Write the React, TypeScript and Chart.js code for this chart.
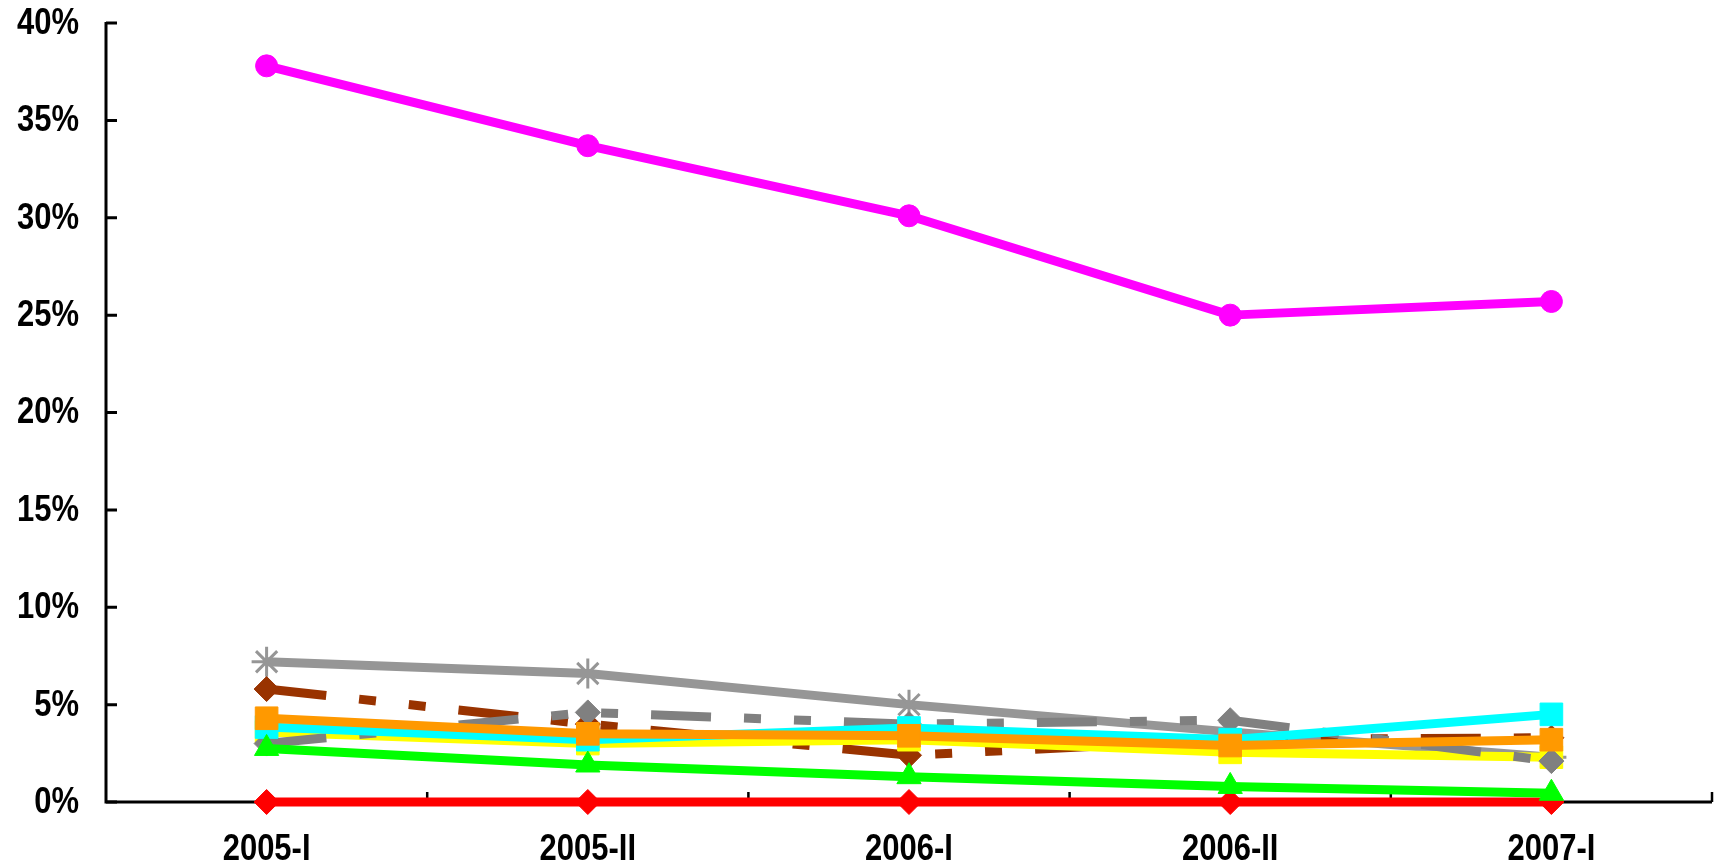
import React, { useEffect, useRef } from "react";
import { Chart, registerables } from "chart.js";

Chart.register(...registerables);

const categories = ["2005-I", "2005-II", "2006-I", "2006-II", "2007-I"];
const yTickMin = 0;
const yTickMax = 40;
const yTickStep = 5;

const magentaValues = [37.8, 33.7, 30.1, 25.0, 25.7];
const lightGrayValues = [7.2, 6.6, 5.0, 3.6, 2.3];
const brownValues = [5.8, 4.0, 2.4, 3.2, 3.3];
const darkGrayValues = [3.0, 4.6, 4.0, 4.2, 2.1];
const cyanValues = [3.85, 3.2, 3.8, 3.2, 4.5];
const orangeValues = [4.3, 3.5, 3.4, 2.9, 3.2];
const yellowValues = [3.6, 3.0, 3.2, 2.55, 2.3];
const greenValues = [2.75, 1.9, 1.3, 0.8, 0.45];
const redValues = [0, 0, 0, 0, 0];

const W = 1721;
const H = 868;
const FONT = "'Liberation Sans', Arial, sans-serif";
const FONT_SIZE = 36;
const SQUEEZE = 0.86;
const DASH = [60, 33, 17, 33, 17, 33];

const axesPlugin = {
  id: "axesInward",
  beforeDatasetsDraw(chart: any) {
    const { ctx, chartArea: a, scales } = chart;
    const x = scales.x;
    const y = scales.y;
    ctx.save();
    ctx.strokeStyle = "#000";
    ctx.lineCap = "butt";
    ctx.lineWidth = 3;
    ctx.beginPath();
    ctx.moveTo(a.left, a.top - 1);
    ctx.lineTo(a.left, a.bottom);
    ctx.lineTo(a.right, a.bottom);
    ctx.stroke();
    ctx.beginPath();
    y.ticks.forEach((t: any) => {
      const py = y.getPixelForValue(t.value);
      ctx.moveTo(a.left, py);
      ctx.lineTo(a.left + 11, py);
    });
    ctx.stroke();
    ctx.lineWidth = 2.5;
    ctx.beginPath();
    for (let i = 1; i <= categories.length; i++) {
      const px = x.getPixelForValue(i - 0.5);
      ctx.moveTo(px, a.bottom);
      ctx.lineTo(px, a.bottom - 10);
    }
    ctx.stroke();
    ctx.restore();
  },
  afterDraw(chart: any) {
    const { ctx, chartArea: a, scales } = chart;
    const x = scales.x;
    const y = scales.y;
    ctx.save();
    ctx.fillStyle = "#000";
    ctx.font = `bold ${FONT_SIZE}px ${FONT}`;
    ctx.textBaseline = "middle";
    ctx.textAlign = "right";
    y.ticks.forEach((t: any) => {
      const py = y.getPixelForValue(t.value);
      ctx.save();
      ctx.translate(a.left - 27, py + 1);
      ctx.scale(SQUEEZE, 1);
      ctx.fillText(`${t.value}%`, 0, 0);
      ctx.restore();
    });
    ctx.textAlign = "center";
    categories.forEach((c, i) => {
      const px = x.getPixelForValue(i);
      ctx.save();
      ctx.translate(px, a.bottom + 48);
      ctx.scale(SQUEEZE, 1);
      ctx.fillText(c, 0, 0);
      ctx.restore();
    });
    ctx.restore();
  },
};

function series(
  label: string,
  data: number[],
  color: string,
  pointStyle: string,
  radius: number,
  order: number,
  dashed = false,
  pointBorderWidth = 1
) {
  return {
    label,
    data,
    borderColor: color,
    backgroundColor: color,
    pointBackgroundColor: color,
    pointBorderColor: color,
    pointBorderWidth,
    pointStyle,
    pointRadius: radius,
    borderWidth: 9,
    borderDash: dashed ? DASH : [],
    borderCapStyle: "butt",
    borderJoinStyle: "round",
    tension: 0,
    fill: false,
    clip: false,
    order,
  };
}

export default function App() {
  const ref = useRef<HTMLCanvasElement | null>(null);

  useEffect(() => {
    if (!ref.current) return;
    const chart = new Chart(ref.current, {
      type: "line",
      data: {
        labels: categories,
        datasets: [
          series("A", magentaValues, "#FF00FF", "circle", 11, 9),
          series("B", lightGrayValues, "#969696", "star", 15, 8, false, 3),
          series("C", brownValues, "#993300", "rectRot", 12.5, 7, true),
          series("D", yellowValues, "#FFFF00", "rect", 16, 6),
          series("E", darkGrayValues, "#808080", "rectRot", 12.5, 5, true),
          series("F", cyanValues, "#00FFFF", "rect", 16, 4),
          series("G", orangeValues, "#FF9900", "rect", 16, 3),
          series("H", redValues, "#FF0000", "rectRot", 12.5, 2),
          series("I", greenValues, "#00FF00", "triangle", 14, 1),
        ] as any,
      },
      options: {
        animation: false,
        responsive: false,
        devicePixelRatio: 1,
        layout: { autoPadding: false, padding: { top: 23, right: 9, left: 0, bottom: 0 } },
        plugins: {
          legend: { display: false },
          tooltip: { enabled: false },
        },
        scales: {
          x: {
            type: "category",
            offset: true,
            grid: { display: false, drawTicks: false, offset: true },
            border: { display: false },
            ticks: { display: false, autoSkip: false, maxRotation: 0 },
            afterFit(scale: any) {
              scale.height = 66;
              scale.paddingLeft = 0;
              scale.paddingRight = 0;
            },
          },
          y: {
            min: yTickMin,
            max: yTickMax,
            grid: { display: false, drawTicks: false },
            border: { display: false },
            ticks: { display: false, stepSize: yTickStep },
            afterFit(scale: any) {
              scale.width = 106;
              scale.paddingTop = 0;
              scale.paddingBottom = 0;
            },
          },
        },
      } as any,
      plugins: [axesPlugin],
    });
    return () => chart.destroy();
  }, []);

  return (
    <div style={{ position: "absolute", left: 0, top: 0, width: W, height: H, overflow: "hidden" }}>
      <canvas ref={ref} width={W} height={H} style={{ display: "block" }} />
    </div>
  );
}
